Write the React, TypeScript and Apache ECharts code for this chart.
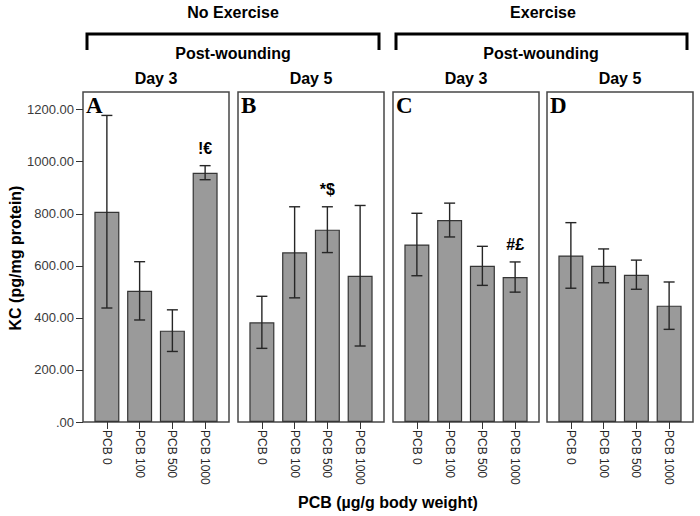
import React, { useEffect, useRef } from "react";
import * as echarts from "echarts";

const categories = ["PCB 0", "PCB 100", "PCB 500", "PCB 1000"];
const yTicks = [0, 200, 400, 600, 800, 1000, 1200];

const meansA = [808, 504, 351, 958];
const errsA = [370, 112, 80, 27];
const notesA = ["", "", "", "!€"];

const meansB = [383, 652, 739, 562];
const errsB = [100, 175, 88, 270];
const notesB = ["", "", "*$", ""];

const meansC = [682, 776, 600, 557];
const errsC = [120, 65, 75, 58];
const notesC = ["", "", "", "#£"];

const meansD = [640, 600, 566, 447];
const errsD = [126, 65, 56, 91];
const notesD = ["", "", "", ""];

const panelLetters = ["A", "B", "C", "D"];
const dayLabels = ["Day 3", "Day 5", "Day 3", "Day 5"];
const groupLabels = ["No Exercise", "Exercise"];
const subLabel = "Post-wounding";
const yTitle = "KC (pg/mg protein)";
const xTitle = "PCB (µg/g body weight)";

const panels = [
  { means: meansA, errs: errsA, notes: notesA },
  { means: meansB, errs: errsB, notes: notesB },
  { means: meansC, errs: errsC, notes: notesC },
  { means: meansD, errs: errsD, notes: notesD },
];

const SANS = '"Liberation Sans", Arial, sans-serif';
const SERIF = '"Liberation Serif", "Times New Roman", serif';
const boxLefts = [83, 238, 393, 547];
const boxW = 146;
const boxTop = 92;
const boxH = 330;
const yMax = 1268;
const inset = 7.5;

export default function App() {
  const ref = useRef<HTMLDivElement>(null);
  useEffect(() => {
    if (!ref.current) return;
    const chart = echarts.init(ref.current, null, { renderer: "svg" });

    const grids: any[] = [];
    const xAxes: any[] = [];
    const yAxes: any[] = [];
    const series: any[] = [];

    boxLefts.forEach((l, i) => {
      grids.push({
        left: l,
        top: boxTop,
        width: boxW,
        height: boxH,
        show: true,
        backgroundColor: "#fff",
        borderColor: "#474747",
        borderWidth: 1.5,
      });
      xAxes.push({ type: "value", gridIndex: i, min: 0, max: 1, show: false });
      yAxes.push({
        type: "value",
        gridIndex: i,
        min: 0,
        max: yMax,
        show: i === 0,
        axisLine: { show: false },
        splitLine: { show: false },
        axisTick: {
          show: true,
          length: 7,
          customValues: yTicks,
          lineStyle: { color: "#333", width: 1 },
        },
        axisLabel: {
          customValues: yTicks,
          margin: 9,
          fontSize: 13,
          fontFamily: SANS,
          color: "#3a3a3a",
          formatter: (v: number) => (v === 0 ? ".00" : v.toFixed(2)),
        },
      });
    });

    boxLefts.forEach((l, i) => {
      const gi = 4 + i;
      grids.push({
        left: l + inset,
        top: boxTop,
        width: boxW - 2 * inset,
        height: boxH,
      });
      xAxes.push({
        type: "category",
        gridIndex: gi,
        data: categories,
        axisLine: { show: false },
        axisTick: {
          show: true,
          alignWithLabel: true,
          length: 7,
          lineStyle: { color: "#333", width: 1 },
        },
        axisLabel: {
          rotate: -90,
          margin: 8,
          fontSize: 12,
          fontFamily: SANS,
          color: "#262626",
        },
      });
      yAxes.push({ type: "value", gridIndex: gi, min: 0, max: yMax, show: false });

      const p = panels[i];
      series.push({
        type: "bar",
        xAxisIndex: gi,
        yAxisIndex: gi,
        data: p.means,
        barWidth: 25,
        itemStyle: { color: "#9a9a9a", borderColor: "#353535", borderWidth: 1.2 },
        z: 2,
      });
      series.push({
        type: "custom",
        xAxisIndex: gi,
        yAxisIndex: gi,
        z: 3,
        data: p.means.map((m, j) => [j, m - p.errs[j], m + p.errs[j]]),
        encode: { x: 0, y: [1, 2] },
        renderItem: (params: any, api: any) => {
          const x = api.value(0);
          const lo = api.value(1);
          const hi = api.value(2);
          const pH = api.coord([x, hi]);
          const pL = api.coord([x, lo]);
          const cap = 5.5;
          const st = { stroke: "#262626", lineWidth: 1.4 };
          const children: any[] = [
            { type: "line", shape: { x1: pH[0], y1: pH[1], x2: pL[0], y2: pL[1] }, style: st },
            { type: "line", shape: { x1: pH[0] - cap, y1: pH[1], x2: pH[0] + cap, y2: pH[1] }, style: st },
            { type: "line", shape: { x1: pL[0] - cap, y1: pL[1], x2: pL[0] + cap, y2: pL[1] }, style: st },
          ];
          const note = p.notes[params.dataIndex];
          if (note) {
            children.push({
              type: "text",
              x: pH[0],
              y: pH[1] - 17,
              style: {
                text: note,
                fill: "#000",
                font: `bold 16px ${SANS}`,
                align: "center",
                verticalAlign: "middle",
                textAlign: "center",
                textVerticalAlign: "middle",
              },
            });
          }
          return { type: "group", children };
        },
      });
    });

    const txt = (text: string, x: number, y: number, font: string, extra: any = {}) => ({
      type: "text",
      x,
      y,
      ...extra,
      style: {
        text,
        fill: "#000",
        font,
        align: "center",
        verticalAlign: "middle",
        textAlign: "center",
        textVerticalAlign: "middle",
      },
    });

    const headFont = `bold 16px ${SANS}`;
    const graphic: any[] = [
      txt(groupLabels[0], 233, 12, headFont),
      txt(groupLabels[1], 543, 12, headFont),
      txt(subLabel, 233, 53, headFont),
      txt(subLabel, 541, 53, headFont),
      {
        type: "polyline",
        shape: { points: [[87, 50], [87, 34], [379, 34], [379, 50]] },
        style: { stroke: "#000", lineWidth: 3, fill: null },
      },
      {
        type: "polyline",
        shape: { points: [[396, 50], [396, 34], [687, 34], [687, 50]] },
        style: { stroke: "#000", lineWidth: 3, fill: null },
      },
      txt(yTitle, 15, 258, headFont, { rotation: Math.PI / 2 }),
      txt(xTitle, 388, 502, headFont),
    ];
    boxLefts.forEach((l, i) => {
      graphic.push(txt(dayLabels[i], l + boxW / 2, 78, headFont));
      graphic.push({
        type: "text",
        x: l + 3,
        y: 105,
        z: 10,
        style: {
          text: panelLetters[i],
          fill: "#000",
          font: `bold 23px ${SERIF}`,
          align: "left",
          verticalAlign: "middle",
          textAlign: "left",
          textVerticalAlign: "middle",
        },
      });
    });

    chart.setOption({
      animation: false,
      backgroundColor: "#fff",
      grid: grids,
      xAxis: xAxes,
      yAxis: yAxes,
      series,
      graphic,
    });
    return () => chart.dispose();
  }, []);

  return (
    <div
      ref={ref}
      style={{ position: "fixed", left: 0, top: 0, width: 700, height: 516 }}
    />
  );
}
